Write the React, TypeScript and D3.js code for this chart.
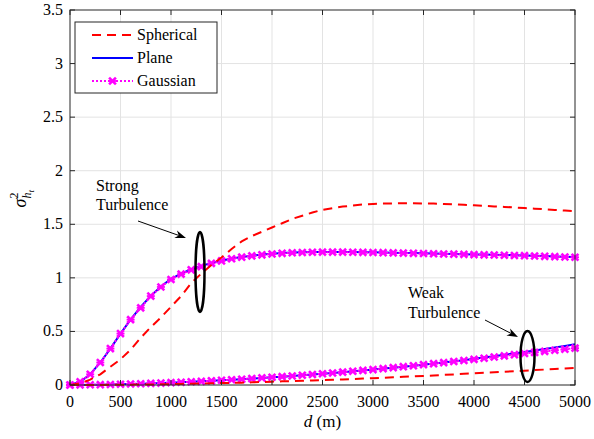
import React from "react";
import * as d3 from "d3";

const distances = d3.range(0, 5001, 100);

const strongSpherical = [0, 0.015, 0.05, 0.1, 0.17, 0.24, 0.33, 0.44, 0.54, 0.63, 0.73, 0.83, 0.95, 1.04, 1.12, 1.19, 1.27, 1.34, 1.39, 1.43, 1.47, 1.51, 1.55, 1.58, 1.61, 1.635, 1.65, 1.665, 1.675, 1.685, 1.69, 1.693, 1.695, 1.696, 1.696, 1.695, 1.693, 1.69, 1.686, 1.682, 1.677, 1.672, 1.667, 1.662, 1.657, 1.652, 1.646, 1.64, 1.634, 1.628, 1.622];
const strongPlane = [0, 0.03, 0.1, 0.21, 0.34, 0.48, 0.61, 0.73, 0.83, 0.92, 0.99, 1.04, 1.08, 1.11, 1.14, 1.16, 1.18, 1.195, 1.207, 1.217, 1.225, 1.231, 1.236, 1.239, 1.241, 1.242, 1.242, 1.242, 1.241, 1.24, 1.239, 1.237, 1.235, 1.233, 1.231, 1.229, 1.227, 1.225, 1.223, 1.221, 1.219, 1.217, 1.215, 1.213, 1.211, 1.209, 1.206, 1.203, 1.2, 1.197, 1.194];
const strongGaussian = [0, 0.03, 0.1, 0.21, 0.34, 0.48, 0.61, 0.72, 0.83, 0.915, 0.985, 1.035, 1.075, 1.105, 1.135, 1.158, 1.178, 1.193, 1.205, 1.215, 1.223, 1.229, 1.234, 1.237, 1.239, 1.24, 1.24, 1.24, 1.239, 1.238, 1.237, 1.235, 1.233, 1.231, 1.229, 1.227, 1.225, 1.223, 1.221, 1.219, 1.217, 1.215, 1.213, 1.211, 1.209, 1.207, 1.204, 1.201, 1.198, 1.195, 1.192];

const weakSpherical = [0, 0, 0.0005, 0.001, 0.0015, 0.002, 0.003, 0.004, 0.005, 0.006, 0.008, 0.01, 0.012, 0.014, 0.016, 0.018, 0.02, 0.022, 0.025, 0.028, 0.031, 0.034, 0.037, 0.04, 0.043, 0.046, 0.049, 0.052, 0.056, 0.06, 0.064, 0.068, 0.072, 0.076, 0.08, 0.084, 0.089, 0.094, 0.099, 0.104, 0.109, 0.114, 0.119, 0.124, 0.129, 0.134, 0.139, 0.144, 0.149, 0.154, 0.159];
const weakPlane = [0, 0.001, 0.002, 0.003, 0.005, 0.007, 0.009, 0.012, 0.015, 0.018, 0.022, 0.026, 0.03, 0.034, 0.039, 0.044, 0.049, 0.054, 0.06, 0.066, 0.072, 0.078, 0.084, 0.091, 0.098, 0.105, 0.112, 0.12, 0.128, 0.136, 0.144, 0.153, 0.162, 0.171, 0.18, 0.19, 0.2, 0.21, 0.221, 0.232, 0.244, 0.256, 0.269, 0.282, 0.295, 0.309, 0.323, 0.337, 0.351, 0.365, 0.38];
const weakGaussian = [0, 0.001, 0.002, 0.003, 0.005, 0.007, 0.009, 0.012, 0.015, 0.018, 0.022, 0.026, 0.03, 0.034, 0.039, 0.044, 0.049, 0.054, 0.06, 0.066, 0.072, 0.078, 0.084, 0.091, 0.098, 0.105, 0.112, 0.12, 0.128, 0.136, 0.144, 0.153, 0.162, 0.171, 0.18, 0.19, 0.199, 0.209, 0.219, 0.229, 0.239, 0.25, 0.261, 0.272, 0.283, 0.294, 0.304, 0.314, 0.324, 0.334, 0.344];

const xTicks = [0, 500, 1000, 1500, 2000, 2500, 3000, 3500, 4000, 4500, 5000];
const yTicks = [0, 0.5, 1, 1.5, 2, 2.5, 3, 3.5];
const legendLabels = ["Spherical", "Plane", "Gaussian"];

const W = 594, H = 439;
const L = 70, R = 575, T = 10, B = 385;
const FONT = "'Liberation Serif', 'Times New Roman', Times, 'DejaVu Serif', 'Noto Serif', serif";
const AX = "#262626";
const RED = "#ff0000", BLUE = "#0000ff", MAG = "#ff00ff";

export default function App() {
  const x = d3.scaleLinear().domain([0, 5000]).range([L, R]);
  const y = d3.scaleLinear().domain([0, 3.5]).range([B, T]);
  const line = (vals: number[]) =>
    d3.line<number>().x((_, i) => x(distances[i])).y((v) => y(v))(vals) || "";

  const marker = (cx: number, cy: number, key: string) => (
    <g key={key} stroke={MAG} strokeWidth={2.6} strokeLinecap="butt">
      <line x1={cx - 3.4} y1={cy - 3.4} x2={cx + 3.4} y2={cy + 3.4} />
      <line x1={cx - 3.4} y1={cy + 3.4} x2={cx + 3.4} y2={cy - 3.4} />
      <line x1={cx - 4} y1={cy} x2={cx + 4} y2={cy} strokeWidth={1.8} />
    </g>
  );

  const arrow = (x1: number, y1: number, x2: number, y2: number) => {
    const ang = Math.atan2(y2 - y1, x2 - x1);
    const len = 11, wid = 4;
    const bx = x2 - len * Math.cos(ang), by = y2 - len * Math.sin(ang);
    const nx = -Math.sin(ang), ny = Math.cos(ang);
    const mx = x2 - len * 0.7 * Math.cos(ang), my = y2 - len * 0.7 * Math.sin(ang);
    return (
      <g>
        <line x1={x1} y1={y1} x2={mx} y2={my} stroke="#000" strokeWidth={1} />
        <path d={`M${x2},${y2} L${bx + nx * wid},${by + ny * wid} L${mx},${my} L${bx - nx * wid},${by - ny * wid} Z`} fill="#000" />
      </g>
    );
  };

  const legendRows = [
    { label: legendLabels[0], color: RED, dash: "9,6", y: 35 },
    { label: legendLabels[1], color: BLUE, dash: "", y: 58 },
    { label: legendLabels[2], color: MAG, dash: "2,2", y: 81 },
  ];

  return (
    <svg width={W} height={H} style={{ position: "absolute", left: 0, top: 0, background: "#fff", fontFamily: FONT }}>
      <rect x={0} y={0} width={W} height={H} fill="#fff" />
      <g stroke="#e3e3e3" strokeWidth={1}>
        {xTicks.slice(1, -1).map((t) => (
          <line key={"gx" + t} x1={x(t)} x2={x(t)} y1={T} y2={B} />
        ))}
        {yTicks.slice(1, -1).map((t) => (
          <line key={"gy" + t} x1={L} x2={R} y1={y(t)} y2={y(t)} />
        ))}
      </g>

      <path d={line(strongPlane)} fill="none" stroke={BLUE} strokeWidth={2} />
      <path d={line(weakPlane)} fill="none" stroke={BLUE} strokeWidth={2} />
      <path d={line(strongGaussian)} fill="none" stroke={MAG} strokeWidth={2} strokeDasharray="2,2" />
      <path d={line(weakGaussian)} fill="none" stroke={MAG} strokeWidth={2} strokeDasharray="2,2" />
      {strongGaussian.map((v, i) => marker(x(distances[i]), y(v), "ms" + i))}
      {weakGaussian.map((v, i) => marker(x(distances[i]), y(v), "mw" + i))}
      <path d={line(strongSpherical)} fill="none" stroke={RED} strokeWidth={2} strokeDasharray="9,6" />
      <path d={line(weakSpherical)} fill="none" stroke={RED} strokeWidth={2} strokeDasharray="9,6" />

      <rect x={L} y={T} width={R - L} height={B - T} fill="none" stroke={AX} strokeWidth={1} />
      <g stroke={AX} strokeWidth={1}>
        {xTicks.map((t) => (
          <g key={"tx" + t}>
            <line x1={x(t)} x2={x(t)} y1={B} y2={B - 5} />
            <line x1={x(t)} x2={x(t)} y1={T} y2={T + 5} />
          </g>
        ))}
        {yTicks.map((t) => (
          <g key={"ty" + t}>
            <line x1={L} x2={L + 5} y1={y(t)} y2={y(t)} />
            <line x1={R} x2={R - 5} y1={y(t)} y2={y(t)} />
          </g>
        ))}
      </g>
      <g fontSize={16} fill="#000" fontFamily={FONT}>
        {xTicks.map((t) => (
          <text key={"lx" + t} x={x(t)} y={407} textAnchor="middle">{t}</text>
        ))}
        {yTicks.map((t) => (
          <text key={"ly" + t} x={63} y={y(t) + 5} textAnchor="end">{t}</text>
        ))}
      </g>

      <text x={(L + R) / 2} y={427} textAnchor="middle" fontSize={17} fontFamily={FONT}>
        <tspan fontStyle="italic">d</tspan> (m)
      </text>
      <text transform={`translate(26,${(T + B) / 2 + 10}) rotate(-90)`} fontSize={18} fontFamily={FONT}>
        <tspan fontStyle="italic">σ</tspan>
        <tspan fontSize={12} dy={-8}>2</tspan>
        <tspan fontSize={12} fontStyle="italic" dx={-6} dy={13}>h</tspan>
        <tspan fontSize={9} fontStyle="italic" dy={3}>t</tspan>
      </text>

      <rect x={75} y={22} width={142} height={71} fill="#fff" stroke={AX} strokeWidth={1} />
      {legendRows.map((r) => (
        <g key={r.label}>
          <line x1={92} x2={133} y1={r.y} y2={r.y} stroke={r.color} strokeWidth={2} strokeDasharray={r.dash} />
          {r.color === MAG && marker(112.5, r.y, "lm")}
          <text x={137} y={r.y + 5} fontSize={16} fontFamily={FONT}>{r.label}</text>
        </g>
      ))}

      <g fontSize={16} fontFamily={FONT}>
        <text x={96} y={191}>Strong</text>
        <text x={96} y={210}>Turbulence</text>
        <text x={408} y={298}>Weak</text>
        <text x={408} y={318}>Turbulence</text>
      </g>
      {arrow(138, 221, 186, 238)}
      <ellipse cx={200} cy={272} rx={4.5} ry={40} fill="none" stroke="#000" strokeWidth={2.5} />
      {arrow(485, 320, 518, 337)}
      <ellipse cx={527.5} cy={356.5} rx={7} ry={25.5} fill="none" stroke="#000" strokeWidth={2.5} />
    </svg>
  );
}
